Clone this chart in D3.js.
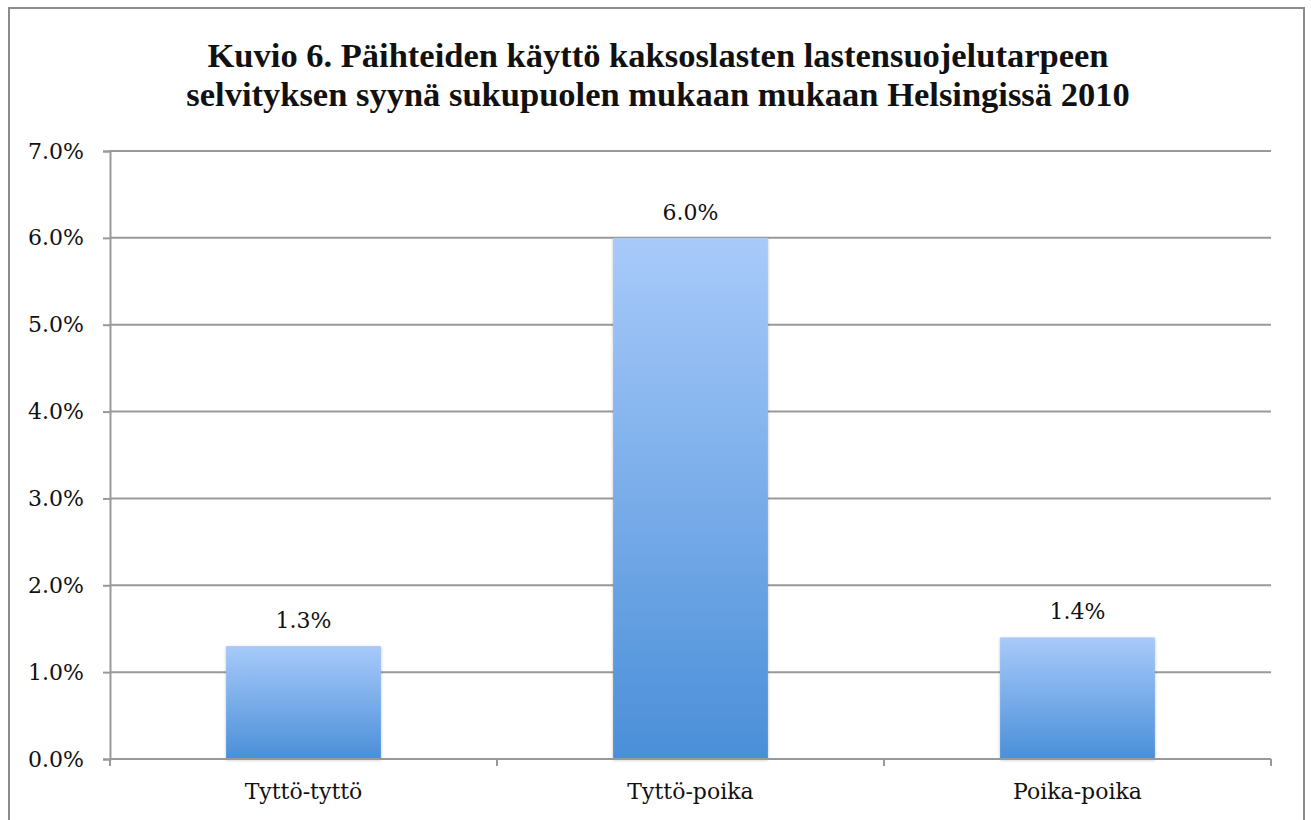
<!DOCTYPE html>
<html>
<head>
<meta charset="utf-8">
<title>Kuvio 6</title>
<script src="https://cdn.jsdelivr.net/npm/d3@7/dist/d3.min.js"></script>
<style>
  body { margin: 0; background: #fff; }
  .lbl { font-family: "DejaVu Serif", "Liberation Serif", serif; fill: #111; }
  .title { font-family: "Liberation Serif", "DejaVu Serif", serif; font-weight: bold; fill: #111; }
</style>
</head>
<body>
<div id="chart"></div>
<script>
const categories = ["Tyttö-tyttö", "Tyttö-poika", "Poika-poika"];
const values = [0.013, 0.060, 0.014];
const yTicks = [0, 0.01, 0.02, 0.03, 0.04, 0.05, 0.06, 0.07];
const titleLines = [
  "Kuvio 6. Päihteiden käyttö kaksoslasten lastensuojelutarpeen",
  "selvityksen syynä sukupuolen mukaan mukaan Helsingissä 2010"
];

const W = 1311, H = 820;
const margin = {top: 151, right: 40, bottom: 61, left: 110};
const width = W - margin.left - margin.right;
const height = H - margin.top - margin.bottom;
const fmt = d3.format(".1%");

const svg = d3.select("#chart").append("svg")
  .attr("width", W).attr("height", H);

const defs = svg.append("defs");
const grad = defs.append("linearGradient")
  .attr("id", "barGrad").attr("x1", 0).attr("y1", 0).attr("x2", 0).attr("y2", 1);
grad.append("stop").attr("offset", "0%").attr("stop-color", "#a8cafa");
grad.append("stop").attr("offset", "100%").attr("stop-color", "#4a8fd8");
const shadow = defs.append("filter").attr("id", "shadow")
  .attr("x", "-10%").attr("y", "-10%").attr("width", "120%").attr("height", "120%");
shadow.append("feDropShadow").attr("dx", 0).attr("dy", 1).attr("stdDeviation", 1.5)
  .attr("flood-color", "#000").attr("flood-opacity", 0.25);

// outer frame
svg.append("rect")
  .attr("x", 9).attr("y", 8).attr("width", 1295).attr("height", 830)
  .attr("fill", "none").attr("stroke", "#8c8c8c").attr("stroke-width", 2);

// title
svg.append("g").selectAll("text").data(titleLines).enter().append("text")
  .attr("class", "title")
  .attr("x", 658).attr("y", (d, i) => 67 + i * 39)
  .attr("text-anchor", "middle")
  .attr("font-size", 34.5)
  .text(d => d);

const g = svg.append("g").attr("transform", `translate(${margin.left},${margin.top})`);

const x = d3.scaleBand().domain(categories).range([0, width]).paddingInner(0).paddingOuter(0);
const y = d3.scaleLinear().domain([0, 0.07]).range([height, 0]);

// gridlines
g.append("g").selectAll("line").data(yTicks).enter().append("line")
  .attr("x1", 0).attr("x2", width)
  .attr("y1", d => y(d)).attr("y2", d => y(d))
  .attr("stroke", "#999").attr("stroke-width", 2);

// y axis
const yAxis = g.append("g")
  .call(d3.axisLeft(y).tickValues(yTicks).tickFormat(fmt).tickSize(7).tickPadding(19));
yAxis.selectAll("path, line").attr("stroke", "#999").attr("stroke-width", 2);
yAxis.selectAll("text").attr("class", "lbl").attr("font-size", 22).attr("fill", "#111");

// bars
const barW = x.bandwidth() * 0.4;
g.append("g").selectAll("rect").data(values).enter().append("rect")
  .attr("x", (d, i) => x(categories[i]) + (x.bandwidth() - barW) / 2)
  .attr("y", d => y(d))
  .attr("width", barW)
  .attr("height", d => height - y(d))
  .attr("fill", "url(#barGrad)")
  .attr("filter", "url(#shadow)");

// value labels
g.append("g").selectAll("text").data(values).enter().append("text")
  .attr("class", "lbl")
  .attr("x", (d, i) => x(categories[i]) + x.bandwidth() / 2)
  .attr("y", d => y(d) - 18)
  .attr("text-anchor", "middle")
  .attr("font-size", 22)
  .text(d => fmt(d));

// x axis with ticks on band boundaries
const xAxis = g.append("g").attr("transform", `translate(0,${height})`);
xAxis.append("line").attr("x1", 0).attr("x2", width)
  .attr("stroke", "#999").attr("stroke-width", 2);
const bounds = categories.map(c => x(c)).concat([width]);
xAxis.selectAll("line.tk").data(bounds).enter().append("line")
  .attr("class", "tk")
  .attr("x1", d => d).attr("x2", d => d).attr("y1", 0).attr("y2", 7)
  .attr("stroke", "#999").attr("stroke-width", 2);
xAxis.selectAll("text").data(categories).enter().append("text")
  .attr("class", "lbl")
  .attr("x", d => x(d) + x.bandwidth() / 2)
  .attr("y", 40)
  .attr("text-anchor", "middle")
  .attr("font-size", 22)
  .text(d => d);
</script>
</body>
</html>
